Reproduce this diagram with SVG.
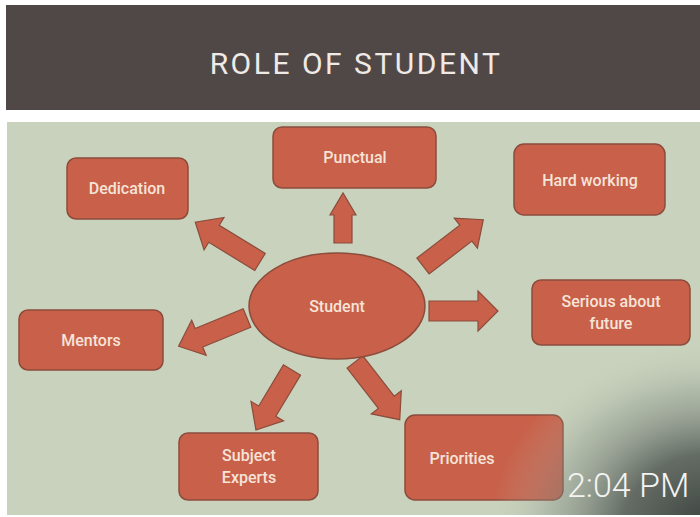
<svg xmlns="http://www.w3.org/2000/svg" width="700" height="517" viewBox="0 0 700 517">
<style>
.node{fill:#c8604a;stroke:#8c4c3c;stroke-width:1.5}
.lbl{font-family:Roboto,"Liberation Sans",sans-serif;font-size:16px;font-weight:500;fill:#f6e4d8;text-anchor:middle}
.arr{fill:#c8604a;stroke:#8c4c3c;stroke-width:1.2}
</style>
<defs>
<radialGradient id="vig" cx="710" cy="530" r="200" gradientUnits="userSpaceOnUse" gradientTransform="translate(710 530) scale(1.1 0.95) translate(-710 -530)">
<stop offset="0" stop-color="#3a403c" stop-opacity="1"/>
<stop offset="0.4" stop-color="#525a55" stop-opacity="0.85"/>
<stop offset="0.75" stop-color="#8a938a" stop-opacity="0.35"/>
<stop offset="1" stop-color="#c8d2bc" stop-opacity="0"/>
</radialGradient>
</defs>
<rect x="0" y="0" width="700" height="517" fill="#ffffff"/>
<rect x="6" y="5" width="694" height="105" fill="#504847"/>
<text x="356" y="74" font-family="Roboto,'Liberation Sans',sans-serif" font-size="30" letter-spacing="2.5" fill="#efeae6" text-anchor="middle">ROLE OF STUDENT</text>
<rect x="7" y="122" width="693" height="393" fill="#c8d2bc"/>
<g id="connectors">
<path class="arr" transform="translate(343,243) rotate(-90)" d="M0,-9 L28,-9 L28,-13 L50,0 L28,13 L28,9 L0,9 Z"/>
<path class="arr" transform="translate(260,262) rotate(-148.4)" d="M0,-10 L54,-10 L54,-19 L76,0 L54,19 L54,10 L0,10 Z"/>
<path class="arr" transform="translate(423,266) rotate(-37.5)" d="M0,-10 L54,-10 L54,-19 L76,0 L54,19 L54,10 L0,10 Z"/>
<path class="arr" transform="translate(429,311) rotate(0)" d="M0,-10 L49,-10 L49,-20 L69,0 L49,20 L49,10 L0,10 Z"/>
<path class="arr" transform="translate(247,318) rotate(157.6)" d="M0,-10 L52,-10 L52,-19 L74,0 L52,19 L52,10 L0,10 Z"/>
<path class="arr" transform="translate(292,370) rotate(121)" d="M0,-10 L48,-10 L48,-19 L70,0 L48,19 L48,10 L0,10 Z"/>
<path class="arr" transform="translate(355,362) rotate(52.2)" d="M0,-10 L51,-10 L51,-19 L73,0 L51,19 L51,10 L0,10 Z"/>
</g>
<g id="student"><ellipse class="node" cx="337" cy="306" rx="88" ry="53"/><text class="lbl" x="337" y="312">Student</text></g>
<g id="punctual"><rect class="node" x="273" y="127" width="163" height="61" rx="9"/><text class="lbl" x="355" y="163">Punctual</text></g>
<g id="dedication"><rect class="node" x="67" y="158" width="121" height="61" rx="9"/><text class="lbl" x="127" y="194">Dedication</text></g>
<g id="hardworking"><rect class="node" x="514" y="144" width="151" height="71" rx="10"/><text class="lbl" x="590" y="186">Hard working</text></g>
<g id="serious"><rect class="node" x="532" y="280" width="158" height="65" rx="9"/><text class="lbl" x="611" y="307">Serious about</text><text class="lbl" x="611" y="329">future</text></g>
<g id="mentors"><rect class="node" x="19" y="310" width="144" height="60" rx="9"/><text class="lbl" x="91" y="346">Mentors</text></g>
<g id="subjectexperts"><rect class="node" x="179" y="433" width="139" height="67" rx="9"/><text class="lbl" x="249" y="461">Subject</text><text class="lbl" x="249" y="483">Experts</text></g>
<g id="priorities"><rect class="node" x="405" y="415" width="158" height="85" rx="10"/><text class="lbl" x="462" y="464">Priorities</text></g>
<rect x="7" y="122" width="693" height="393" fill="url(#vig)"/>
<text x="567" y="497" font-family="Roboto,'Liberation Sans',sans-serif" font-size="34" font-weight="300" fill="#f4f4f2">2:04 PM</text>
</svg>
